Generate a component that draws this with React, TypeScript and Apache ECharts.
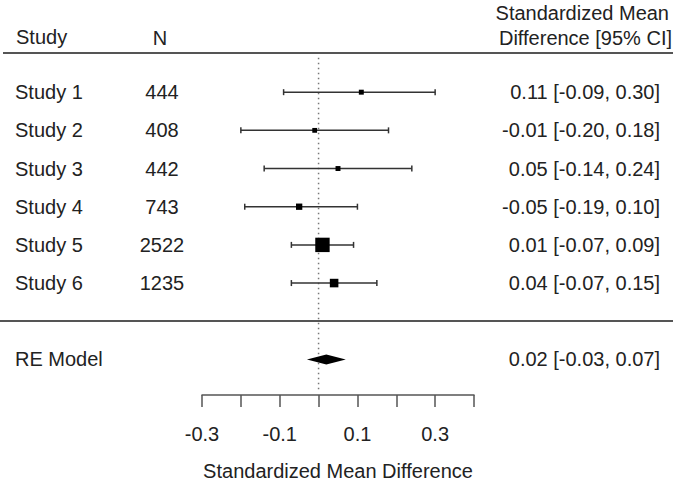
import React, { useEffect, useRef } from "react";
import * as echarts from "echarts";

const studies = ["Study 1", "Study 2", "Study 3", "Study 4", "Study 5", "Study 6"];
const sampleSizes = [444, 408, 442, 743, 2522, 1235];
const estimates = [0.11, -0.01, 0.05, -0.05, 0.01, 0.04];
const ciLower = [-0.09, -0.2, -0.14, -0.19, -0.07, -0.07];
const ciUpper = [0.3, 0.18, 0.24, 0.1, 0.09, 0.15];

const reLabel = "RE Model";
const reEstimate = 0.02;
const reLower = -0.03;
const reUpper = 0.07;

const xLabelledTicks = [-0.3, -0.1, 0.1, 0.3];

const FONT = "'Liberation Sans', Arial, Helvetica, sans-serif";
const TEXT = "#222";
const GREY = "#555";

const studyRows = studies.map((_, i) => studies.length - i);
const reRow = -1;

const fmtCI = (e: number, l: number, u: number) =>
  `${e.toFixed(2)} [${l.toFixed(2)}, ${u.toFixed(2)}]`;

function rowIndex(v: number) {
  return studyRows.indexOf(Math.round(v));
}

export default function App() {
  const ref = useRef<HTMLDivElement>(null);
  useEffect(() => {
    document.body.style.margin = "0";
    if (!ref.current) return;
    const chart = echarts.init(ref.current, null, { renderer: "svg" });
    const nMin = Math.min(...sampleSizes);
    const nMax = Math.max(...sampleSizes);
    const sizeOf = (n: number) => 9.6 * (0.5 + (n - nMin) / (nMax - nMin));

    const studyData = studies.map((_, i) => [
      estimates[i],
      studyRows[i],
      ciLower[i],
      ciUpper[i],
      sampleSizes[i],
    ]);

    const yBase = {
      type: "value",
      min: -2,
      max: 7,
      interval: 1,
      axisLine: { show: false },
      axisTick: { show: false },
      splitLine: { show: false },
    };

    const option: any = {
      animation: false,
      grid: {
        left: 202,
        right: 203,
        top: 54,
        bottom: 83.4,
        containLabel: false,
        outerBoundsMode: "none",
      },
      xAxis: {
        type: "value",
        min: -0.3,
        max: 0.4,
        interval: 0.1,
        offset: -2.5,
        splitLine: { show: false },
        axisLine: { show: true, onZero: false, lineStyle: { color: GREY, width: 1.5 } },
        axisTick: { show: true, inside: false, length: 12, lineStyle: { color: GREY, width: 1.5 } },
        axisLabel: {
          margin: 29,
          fontSize: 20,
          fontFamily: FONT,
          color: TEXT,
          formatter: (v: number) =>
            xLabelledTicks.some((t) => Math.abs(t - v) < 1e-6) ? v.toFixed(1) : "",
        },
        name: "Standardized Mean Difference",
        nameLocation: "middle",
        nameGap: 66,
        nameTextStyle: { fontSize: 20, fontFamily: FONT, color: TEXT },
      },
      yAxis: [
        {
          ...yBase,
          position: "left",
          axisLabel: {
            align: "left",
            margin: 187,
            fontSize: 20,
            fontFamily: FONT,
            color: TEXT,
            formatter: (v: number) => {
              if (Math.round(v) === reRow) return reLabel;
              const i = rowIndex(v);
              return i >= 0 ? studies[i] : "";
            },
          },
        },
        {
          ...yBase,
          position: "left",
          axisLabel: {
            align: "center",
            margin: 40,
            fontSize: 20,
            fontFamily: FONT,
            color: TEXT,
            formatter: (v: number) => {
              const i = rowIndex(v);
              return i >= 0 ? String(sampleSizes[i]) : "";
            },
          },
        },
        {
          ...yBase,
          position: "right",
          axisLabel: {
            align: "right",
            margin: 186,
            fontSize: 20,
            fontFamily: FONT,
            color: TEXT,
            formatter: (v: number) => {
              if (Math.round(v) === reRow) return fmtCI(reEstimate, reLower, reUpper);
              const i = rowIndex(v);
              return i >= 0 ? fmtCI(estimates[i], ciLower[i], ciUpper[i]) : "";
            },
          },
        },
      ],
      graphic: [
        { type: "text", left: 16, top: 27, style: { text: "Study", font: `20px ${FONT}`, fill: TEXT } },
        { type: "text", x: 160, y: 38, style: { text: "N", font: `20px ${FONT}`, fill: TEXT, align: "center", verticalAlign: "middle" } },
        { type: "text", x: 669, y: 13, style: { text: "Standardized Mean", font: `20px ${FONT}`, fill: TEXT, align: "right", verticalAlign: "middle" } },
        { type: "text", x: 672, y: 38, style: { text: "Difference [95% CI]", font: `20px ${FONT}`, fill: TEXT, align: "right", verticalAlign: "middle" } },
        { type: "line", shape: { x1: 3, y1: 53, x2: 673, y2: 53 }, style: { stroke: GREY, lineWidth: 2 } },
        { type: "line", shape: { x1: 0, y1: 321, x2: 673, y2: 321 }, style: { stroke: GREY, lineWidth: 2 } },
      ],
      series: [
        {
          type: "custom",
          name: "ref",
          xAxisIndex: 0,
          yAxisIndex: 0,
          silent: true,
          data: [[0, 6.9, -1.85]],
          renderItem: (_p: any, api: any) => {
            const a = api.coord([api.value(0), api.value(1)]);
            const b = api.coord([api.value(0), api.value(2)]);
            return {
              type: "line",
              shape: { x1: a[0], y1: a[1], x2: b[0], y2: b[1] },
              style: { stroke: "#777", lineWidth: 1.5, lineDash: [1.5, 3.5] },
            };
          },
        },
        {
          type: "custom",
          name: "studies",
          xAxisIndex: 0,
          yAxisIndex: 0,
          silent: true,
          encode: { x: 0, y: 1 },
          data: studyData,
          renderItem: (_p: any, api: any) => {
            const est = api.value(0);
            const row = api.value(1);
            const lo = api.value(2);
            const hi = api.value(3);
            const n = api.value(4);
            const pL = api.coord([lo, row]);
            const pH = api.coord([hi, row]);
            const pE = api.coord([est, row]);
            const s = sizeOf(n);
            const cap = 3;
            const st = { stroke: "#333", lineWidth: 1.5 };
            return {
              type: "group",
              children: [
                { type: "line", shape: { x1: pL[0], y1: pL[1], x2: pH[0], y2: pH[1] }, style: st },
                { type: "line", shape: { x1: pL[0], y1: pL[1] - cap, x2: pL[0], y2: pL[1] + cap }, style: st },
                { type: "line", shape: { x1: pH[0], y1: pH[1] - cap, x2: pH[0], y2: pH[1] + cap }, style: st },
                { type: "rect", shape: { x: pE[0] - s / 2, y: pE[1] - s / 2, width: s, height: s }, style: { fill: "#000" } },
              ],
            };
          },
        },
        {
          type: "custom",
          name: "re",
          xAxisIndex: 0,
          yAxisIndex: 0,
          silent: true,
          encode: { x: 0, y: 1 },
          data: [[reEstimate, reRow, reLower, reUpper]],
          renderItem: (_p: any, api: any) => {
            const est = api.value(0);
            const row = api.value(1);
            const pL = api.coord([api.value(2), row]);
            const pH = api.coord([api.value(3), row]);
            const pE = api.coord([est, row]);
            const h = 5;
            return {
              type: "polygon",
              shape: {
                points: [
                  [pL[0], pL[1]],
                  [pE[0], pE[1] - h],
                  [pH[0], pH[1]],
                  [pE[0], pE[1] + h],
                ],
              },
              style: { fill: "#000" },
            };
          },
        },
      ],
    };
    chart.setOption(option);
    return () => chart.dispose();
  }, []);
  return <div ref={ref} style={{ width: 677, height: 481 }} />;
}
